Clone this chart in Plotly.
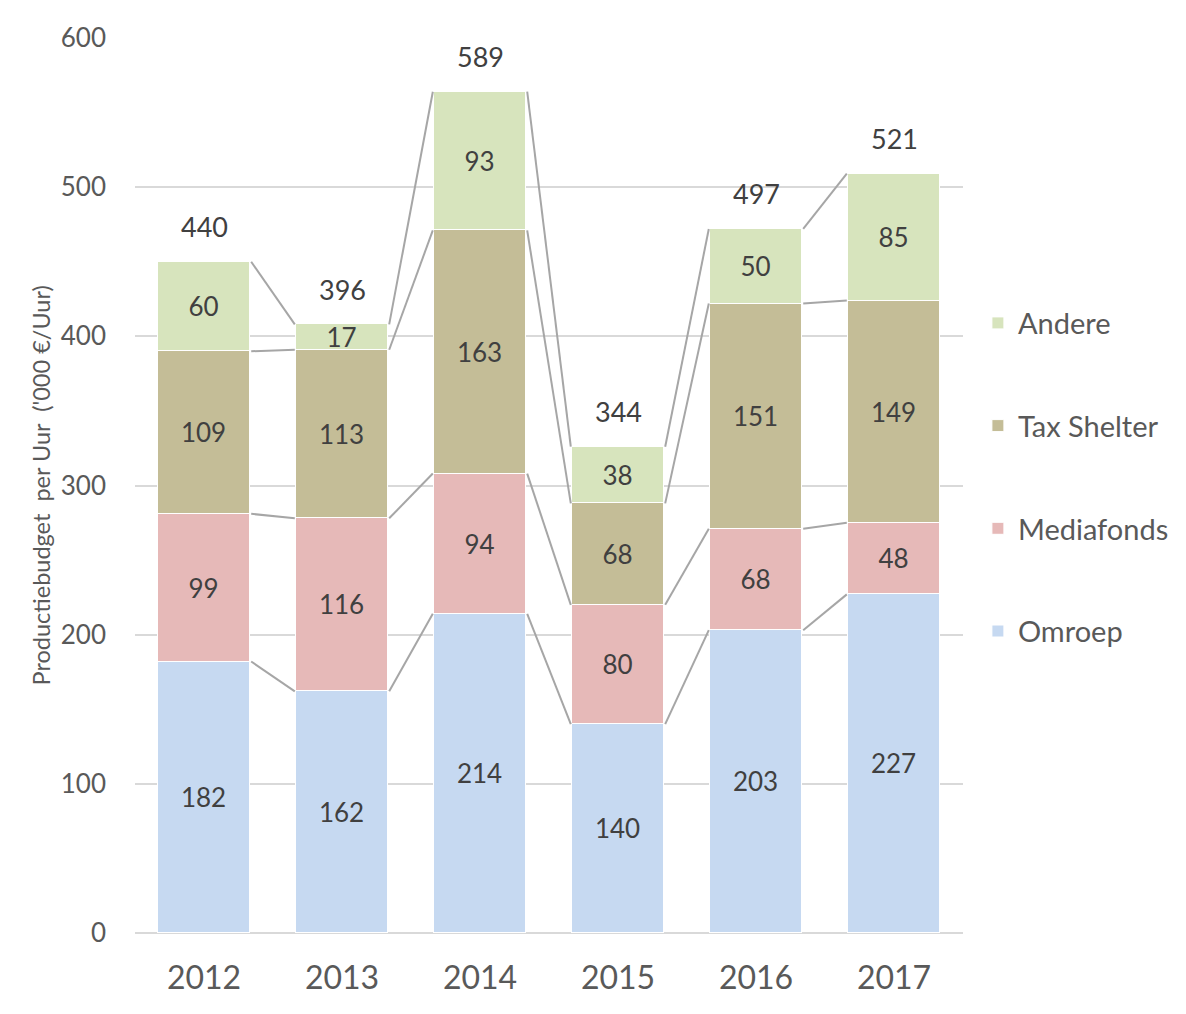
import plotly.graph_objects as go

years = ["2012", "2013", "2014", "2015", "2016", "2017"]
omroep = [182, 162, 214, 140, 203, 227]
mediafonds = [99, 116, 94, 80, 68, 48]
tax_shelter = [109, 113, 163, 68, 151, 149]
andere = [60, 17, 93, 38, 50, 85]
totals = [440, 396, 589, 344, 497, 521]

series = [
    ("Omroep", omroep, "#C6D9F1"),
    ("Mediafonds", mediafonds, "#E6B9B8"),
    ("Tax Shelter", tax_shelter, "#C4BD97"),
    ("Andere", andere, "#D7E4BD"),
]

FONT = "Lato"
LABEL_COLOR = "#404040"
TICK_COLOR = "#595959"
BAR_W = 0.66
xpos = list(range(len(years)))

fig = go.Figure()

cum = [0] * len(years)
lx, ly = [], []
for name, vals, color in series:
    cum = [c + v for c, v in zip(cum, vals)]
    for i in range(len(years) - 1):
        lx += [xpos[i] + BAR_W / 2 + 0.012, xpos[i + 1] - BAR_W / 2 - 0.012, None]
        ly += [cum[i], cum[i + 1], None]
tops = cum

for idx, (name, vals, color) in enumerate(series):
    fig.add_trace(go.Bar(
        x=xpos, y=vals, name=name, width=BAR_W,
        marker=dict(color=color, line=dict(color="white", width=1)),
        text=[str(v) for v in vals], textposition="inside",
        insidetextanchor="middle", textangle=0, constraintext="none",
        textfont=dict(family=FONT, size=26, color=LABEL_COLOR),
        legendgroup=name, legendrank=len(series) - idx, hoverinfo="skip",
    ))

fig.add_trace(go.Scatter(
    x=lx, y=ly, mode="lines", line=dict(color="#A6A6A6", width=2),
    showlegend=False, hoverinfo="skip",
))

for i, t in enumerate(totals):
    fig.add_annotation(
        x=xpos[i], y=tops[i], text=str(t), showarrow=False,
        yanchor="middle", yshift=35,
        font=dict(family=FONT, size=27, color=LABEL_COLOR),
    )

fig.add_annotation(
    xref="paper", yref="paper", x=0, y=0.5, xshift=-95,
    xanchor="center", yanchor="middle",
    text="Productiebudget\u00a0 per Uur\u00a0 ('000 €/Uur)", textangle=-90,
    showarrow=False, font=dict(family=FONT, size=23.5, color=TICK_COLOR),
)

fig.update_layout(
    width=1178, height=1006,
    margin=dict(l=127, r=221, t=30, b=81),
    barmode="stack", bargap=0,
    paper_bgcolor="white", plot_bgcolor="white",
    font=dict(family=FONT, color=TICK_COLOR),
    showlegend=True,
    legend=dict(
        x=1.018, xanchor="left", y=0.71, yanchor="top",
        traceorder="grouped", tracegroupgap=62,
        font=dict(family=FONT, size=29, color=TICK_COLOR),
        bgcolor="rgba(0,0,0,0)",
    ),
    xaxis=dict(
        range=[-0.5, 5.5], tickvals=xpos, ticktext=years,
        tickfont=dict(family=FONT, size=32, color=TICK_COLOR),
        showgrid=False, zeroline=False, showline=False,
        ticks="", ticklabelstandoff=23, fixedrange=True,
    ),
    yaxis=dict(
        range=[0, 600], dtick=100, tick0=0,
        tickfont=dict(family=FONT, size=26, color=TICK_COLOR),
        showgrid=True, gridcolor="#D9D9D9", gridwidth=2,
        zeroline=True, zerolinecolor="#D9D9D9", zerolinewidth=2,
        showline=False, ticks="", ticklabelstandoff=28, fixedrange=True,
    ),
)

fig.write_html("out.html")
